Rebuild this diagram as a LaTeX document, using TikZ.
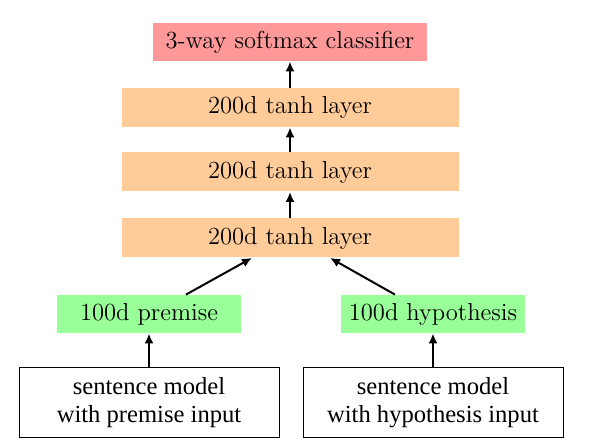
\documentclass[tikz,border=0pt]{standalone}
\usepackage{fontspec}
\newfontfamily\timesfont{Liberation Serif}
\usetikzlibrary{arrows.meta}
\definecolor{boxred}{RGB}{255,153,153}
\definecolor{boxorange}{RGB}{255,204,153}
\definecolor{boxgreen}{RGB}{153,255,153}
\tikzset{
  lay/.style={inner sep=0pt, font=\fontsize{12.3}{14}\selectfont},
  redbox/.style={lay, fill=boxred, minimum width=137pt, minimum height=19pt},
  orangebox/.style={lay, fill=boxorange, minimum width=168.5pt, minimum height=19.5pt},
  greenbox/.style={lay, fill=boxgreen, minimum width=92pt, minimum height=19pt},
  inbox/.style={draw=black, line width=0.5pt, inner sep=0pt, align=center,
     minimum width=130pt, minimum height=35pt, font=\timesfont\fontsize{12.3}{14}\selectfont},
  arr/.style={-{Latex[length=5pt,width=4.5pt]}, line width=1pt, black}
}
\begin{document}
\begin{tikzpicture}[x=0.5pt,y=-0.5pt]
\useasboundingbox (0,0) rectangle (596,448);
\node[redbox] (soft) at (290,42) {3-way softmax classifier};
\node[orangebox] (t3) at (290,107.5) {200d $\tanh$ layer};
\node[orangebox] (t2) at (290,172) {200d $\tanh$ layer};
\node[orangebox] (t1) at (290,238) {200d $\tanh$ layer};
\node[greenbox] (prem) at (149,314) {100d premise};
\node[greenbox] (hyp) at (433,314) {100d hypothesis};
\node[inbox] (sp) at (149,403) {sentence model\\with premise input};
\node[inbox] (sh) at (433,403) {sentence model\\with hypothesis input};
\draw[arr] (t3.north) -- (soft.south);
\draw[arr] (t2.north) -- (t3.south);
\draw[arr] (t1.north) -- (t2.south);
\draw[arr] ([xshift=18.5pt]prem.north) -- ([xshift=-19pt]t1.south);
\draw[arr] ([xshift=-19pt]hyp.north) -- ([xshift=20pt]t1.south);
\draw[arr] (sp.north) -- (prem.south);
\draw[arr] (sh.north) -- (hyp.south);
\end{tikzpicture}
\end{document}
